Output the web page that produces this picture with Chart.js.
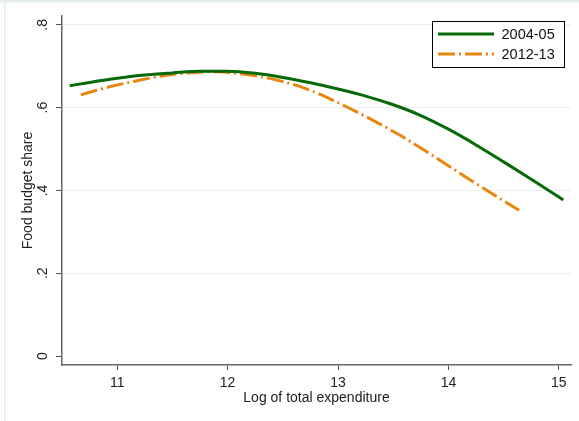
<!DOCTYPE html>
<html>
<head>
<meta charset="utf-8">
<script src="https://cdn.jsdelivr.net/npm/chart.js@4/dist/chart.umd.min.js"></script>
<style>
  html, body { margin: 0; padding: 0; background: #fff; }
  #wrap { width: 579px; height: 421px; }
</style>
</head>
<body>
<div id="wrap"><canvas id="grafico" width="579" height="421"></canvas></div>
<script>
// Datos
const serie1Label = "2004-05";
const serie1X = [10.57, 10.75, 11, 11.25, 11.5, 11.75, 12, 12.25, 12.5, 12.75, 13, 13.25, 13.5, 13.75, 14, 14.25, 14.5, 14.75, 15, 15.04];
const serie1Y = [0.653, 0.661, 0.671, 0.679, 0.684, 0.688, 0.688, 0.683, 0.673, 0.660, 0.645, 0.628, 0.607, 0.581, 0.548, 0.510, 0.469, 0.427, 0.384, 0.377];

const serie2Label = "2012-13";
const serie2X = [10.67, 10.94, 11.18, 11.39, 11.64, 11.91, 12.12, 12.36, 12.57, 12.69, 12.96, 13.27, 13.57, 13.87, 14.17, 14.47, 14.64];
const serie2Y = [0.631, 0.651, 0.665, 0.676, 0.684, 0.687, 0.682, 0.672, 0.658, 0.648, 0.617, 0.576, 0.532, 0.482, 0.430, 0.380, 0.352];

const xTicks = [11, 12, 13, 14, 15];
const yTicks = [0, 0.2, 0.4, 0.6, 0.8];
const yTickLabels = ["0", ".2", ".4", ".6", ".8"];

const xTitle = "Log of total expenditure";
const yTitle = "Food budget share";

const verde = "#076907";
const naranja = "#e8860f";
const dashNaranja = [17, 4, 2, 4];
const fuente = "'Liberation Sans', Arial, sans-serif";

function puntos(xs, ys) {
  return xs.map((x, i) => ({ x: x, y: ys[i] }));
}

// Marco claro y leyenda con borde
const decoracion = {
  id: "decoracion",
  beforeDraw(chart) {
    const c = chart.ctx;
    c.save();
    c.fillStyle = "#fff";
    c.fillRect(0, 0, chart.width, chart.height);
    c.fillStyle = "#e7eef2";
    c.fillRect(0, 0, chart.width, 2.5);
    c.fillRect(4, 0, 1.5, chart.height);
    c.restore();
  },
  afterDraw(chart) {
    const c = chart.ctx;
    c.save();
    c.fillStyle = "#fff";
    c.fillRect(432.5, 21.5, 132, 46);
    c.strokeStyle = "#000";
    c.lineWidth = 1;
    c.strokeRect(432.5, 21.5, 132, 46);
    const filas = [
      { y: 34, color: verde, dash: [], label: serie1Label },
      { y: 54, color: naranja, dash: dashNaranja, label: serie2Label },
    ];
    filas.forEach((f) => {
      c.beginPath();
      c.setLineDash(f.dash);
      c.strokeStyle = f.color;
      c.lineWidth = 3;
      c.moveTo(438, f.y);
      c.lineTo(494, f.y);
      c.stroke();
      c.setLineDash([]);
      c.fillStyle = "#111";
      c.font = "14.5px " + fuente;
      c.textBaseline = "middle";
      c.textAlign = "left";
      c.fillText(f.label, 501.5, f.y + 0.5);
    });
    c.restore();
  },
};

const ctx = document.getElementById("grafico");

new Chart(ctx, {
  type: "line",
  data: {
    datasets: [
      {
        label: serie1Label,
        data: puntos(serie1X, serie1Y),
        borderColor: verde,
        borderWidth: 3,
        pointRadius: 0,
        cubicInterpolationMode: "monotone",
        fill: false,
      },
      {
        label: serie2Label,
        data: puntos(serie2X, serie2Y),
        borderColor: naranja,
        borderWidth: 3,
        borderDash: dashNaranja,
        pointRadius: 0,
        cubicInterpolationMode: "monotone",
        fill: false,
      },
    ],
  },
  options: {
    responsive: false,
    animation: false,
    layout: { padding: { left: 0, right: 8, top: 15, bottom: 0 } },
    plugins: { legend: { display: false }, tooltip: { enabled: false } },
    scales: {
      x: {
        type: "linear",
        min: 10.5,
        max: 15.11,
        afterFit: (s) => { s.height = 56; },
        afterBuildTicks: (s) => { s.ticks = xTicks.map((v) => ({ value: v })); },
        border: { color: "#666", width: 1.5 },
        grid: { drawOnChartArea: false, tickLength: 5, tickColor: "#555", tickWidth: 1 },
        ticks: {
          maxRotation: 0,
          padding: 4.5,
          color: "#222",
          font: { family: fuente, size: 14 },
          callback: (v) => String(v),
        },
        title: {
          display: true,
          text: xTitle,
          color: "#222",
          font: { family: fuente, size: 14 },
          padding: { top: 0, bottom: 14.5 },
        },
      },
      y: {
        min: -0.0217,
        max: 0.8217,
        afterFit: (s) => { s.width = 62; },
        afterBuildTicks: (s) => { s.ticks = yTicks.map((v) => ({ value: v })); },
        border: { color: "#666", width: 1.5 },
        grid: {
          color: (c) => (c.tick && c.tick.value === 0 ? "rgba(0,0,0,0)" : "#e9f0f2"),
          lineWidth: 1,
          tickLength: 6,
          tickColor: "#555",
        },
        ticks: {
          minRotation: 90,
          maxRotation: 90,
          crossAlign: "center",
          padding: 7.5,
          color: "#222",
          font: { family: fuente, size: 14 },
          callback: (v) => {
            const i = yTicks.findIndex((t) => Math.abs(t - v) < 1e-9);
            return i >= 0 ? yTickLabels[i] : "";
          },
        },
        title: {
          display: true,
          text: yTitle,
          color: "#222",
          font: { family: fuente, size: 14 },
          padding: { top: 20, bottom: 0 },
        },
      },
    },
  },
  plugins: [decoracion],
});
</script>
</body>
</html>
